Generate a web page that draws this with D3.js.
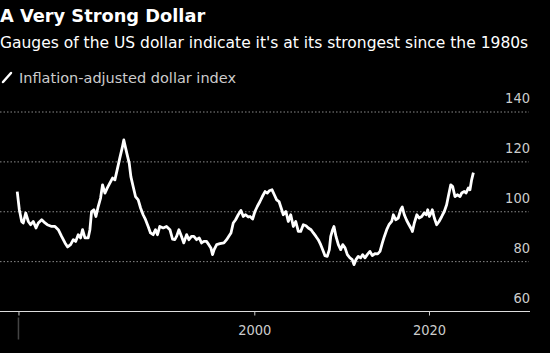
<!DOCTYPE html>
<html lang="en">
<head>
    <meta charset="UTF-8">
    <title>A Very Strong Dollar</title>
    <script src="https://cdn.jsdelivr.net/npm/d3@7"></script>
    <style>
        body { margin: 0; background: #000; }
        text { font-family: "DejaVu Sans Condensed", "DejaVu Sans", sans-serif; }
    </style>
</head>
<body>
<div id="chart"></div>
<script>

    // inflation-adjusted dollar index (decimal year, index)
    const years = [
        1972.86, 1973.10, 1973.37, 1973.55, 1973.83, 1974.13, 1974.40, 1974.70, 1975.01, 1975.27,
        1975.66, 1976.04, 1976.30, 1976.81, 1977.18, 1977.56, 1977.94, 1978.33, 1978.63, 1978.97,
        1979.28, 1979.55, 1979.84, 1980.11, 1980.34, 1980.61, 1980.98, 1981.18, 1981.37, 1981.63,
        1981.87, 1982.13, 1982.40, 1982.63, 1982.90, 1983.16, 1983.46, 1983.77, 1984.04, 1984.30,
        1984.60, 1984.87, 1985.06, 1985.27, 1985.45, 1985.68, 1985.87, 1986.13, 1986.40, 1986.71,
        1986.98, 1987.27, 1987.55, 1987.85, 1988.12, 1988.42, 1988.69, 1988.92, 1989.18, 1989.57,
        1989.95, 1990.34, 1990.64, 1990.90, 1991.10, 1991.37, 1991.67, 1991.93, 1992.25, 1992.51,
        1992.81, 1993.08, 1993.39, 1993.69, 1993.96, 1994.23, 1994.53, 1994.79, 1995.03, 1995.22,
        1995.40, 1995.69, 1996.06, 1996.52, 1996.83, 1997.12, 1997.33, 1997.59, 1997.86, 1998.16,
        1998.47, 1998.74, 1999.01, 1999.31, 1999.51, 1999.81, 2000.07, 2000.34, 2000.65, 2000.92,
        2001.23, 2001.49, 2001.71, 2002.03, 2002.29, 2002.56, 2002.83, 2003.14, 2003.32, 2003.62,
        2003.89, 2004.17, 2004.47, 2004.74, 2005.04, 2005.31, 2005.61, 2005.92, 2006.18, 2006.50,
        2006.76, 2007.06, 2007.32, 2007.60, 2007.83, 2008.09, 2008.35, 2008.59, 2008.75, 2008.97,
        2009.12, 2009.35, 2009.62, 2009.89, 2010.12, 2010.39, 2010.65, 2010.95, 2011.21, 2011.41,
        2011.64, 2011.90, 2012.17, 2012.40, 2012.67, 2012.93, 2013.24, 2013.51, 2013.81, 2014.13,
        2014.39, 2014.66, 2014.89, 2015.16, 2015.42, 2015.73, 2015.92, 2016.19, 2016.48, 2016.76,
        2016.94, 2017.17, 2017.45, 2017.71, 2018.03, 2018.10, 2018.32, 2018.61, 2018.87, 2019.17,
        2019.44, 2019.67, 2019.86, 2020.04, 2020.24, 2020.38, 2020.61, 2020.88, 2021.15, 2021.46,
        2021.75, 2022.02, 2022.21, 2022.49, 2022.71, 2022.97, 2023.24, 2023.55, 2023.74, 2024.04,
        2024.23, 2024.50, 2024.69, 2024.88, 2025.08
    ];
    const index = [
        108.1, 100.8, 96.1, 95.5, 99.5, 96.1, 94.8, 96.1, 93.5, 95.5,
        96.8, 95.5, 94.8, 94.1, 94.1, 92.8, 90.1, 87.5, 85.9, 86.8,
        88.8, 88.1, 90.8, 89.5, 92.8, 89.5, 89.5, 92.8, 100.1, 100.8,
        98.1, 102.1, 105.5, 110.8, 107.5, 109.5, 111.5, 113.5, 112.8, 116.8,
        121.5, 125.5, 128.8, 125.5, 122.8, 119.5, 114.1, 110.1, 106.1, 104.8,
        101.5, 98.8, 96.8, 94.1, 91.5, 90.8, 92.8, 90.8, 94.1, 93.5,
        94.1, 92.8, 89.0, 88.8, 90.1, 92.8, 90.1, 87.5, 90.8, 88.8,
        90.1, 90.1, 88.8, 89.5, 87.5, 88.1, 88.1, 86.8, 85.5, 82.8,
        84.8, 86.8, 87.2, 87.5, 88.8, 90.4, 91.5, 95.5, 96.8, 98.8,
        100.5, 98.1, 98.8, 97.9, 98.1, 97.1, 100.1, 102.1, 104.1, 106.1,
        108.1, 107.5, 108.4, 108.8, 106.8, 104.8, 104.1, 100.8, 98.8, 100.1,
        96.1, 98.8, 94.1, 96.1, 92.1, 92.1, 94.8, 94.4, 93.5, 92.8,
        91.5, 90.1, 88.8, 86.8, 84.8, 82.4, 82.1, 84.8, 90.1, 92.8,
        94.1, 90.1, 86.8, 84.8, 86.8, 85.5, 82.8, 81.5, 80.8, 78.8,
        80.8, 82.1, 81.5, 82.8, 81.5, 82.8, 84.1, 82.4, 83.2, 83.1,
        84.1, 87.5, 90.1, 92.8, 94.8, 96.1, 98.8, 96.8, 97.5, 100.8,
        101.9, 98.8, 96.5, 94.8, 92.8, 92.1, 95.5, 98.8, 97.5, 98.1,
        99.5, 98.8, 100.8, 98.1, 99.5, 100.8, 97.5, 94.8, 96.1, 98.1,
        100.1, 102.8, 106.1, 110.8, 110.1, 106.1, 106.8, 106.1, 107.5, 108.1,
        107.5, 109.5, 108.8, 112.8, 115.7
    ];
    const yTicks = [60, 80, 100, 120, 140];
    const xTicks = [1973, 2000, 2020];
    const xTickLabels = ["", "2000", "2020"];

    const data = years.map((d, i) => ({year: d, value: index[i]}));

    const W = 550, H = 353;
    const margin = {top: 112, right: 21, bottom: 41.5, left: 0};

    const svg = d3.select("#chart")
        .append("svg")
        .attr("width", W)
        .attr("height", H)
        .style("background", "#000");

    // titles
    svg.append("text")
        .attr("x", 0).attr("y", 22)
        .attr("fill", "#fff")
        .style("font-family", "'DejaVu Sans', sans-serif")
        .style("font-weight", "bold")
        .style("font-size", "17.8px")
        .text("A Very Strong Dollar");
    svg.append("text")
        .attr("x", 0).attr("y", 48)
        .attr("fill", "#fff")
        .style("font-family", "'DejaVu Sans', sans-serif")
        .style("font-size", "15.5px")
        .text("Gauges of the US dollar indicate it's at its strongest since the 1980s");

    // legend
    svg.append("line")
        .attr("x1", 3).attr("y1", 82).attr("x2", 11).attr("y2", 73)
        .attr("stroke", "#fff").attr("stroke-width", 2.5)
        .attr("stroke-linecap", "round");
    svg.append("text")
        .attr("x", 19).attr("y", 83)
        .attr("fill", "#ccc")
        .style("font-family", "'DejaVu Sans', sans-serif")
        .style("font-size", "14.5px")
        .text("Inflation-adjusted dollar index");

    const x = d3.scaleLinear()
        .domain([2000, 2020])
        .range([254.3, 429]);
    const y = d3.scaleLinear()
        .domain([60, 140])
        .range([H - margin.bottom, margin.top]);

    // gridlines
    svg.append("g")
        .selectAll("line")
        .data(yTicks.slice(1))
        .enter()
        .append("line")
        .attr("x1", 0)
        .attr("x2", W - margin.right)
        .attr("y1", d => y(d))
        .attr("y2", d => y(d))
        .attr("stroke", "#8a8a8a")
        .attr("stroke-width", 1)
        .attr("stroke-dasharray", "1.5,2");

    // y labels
    svg.append("g")
        .selectAll("text")
        .data(yTicks)
        .enter()
        .append("text")
        .attr("x", 530)
        .attr("y", d => y(d) - 9)
        .attr("text-anchor", "end")
        .attr("fill", "#ccc")
        .style("font-size", "14.5px")
        .text(d => d);

    // x axis
    const xAxis = d3.axisBottom(x)
        .tickValues(xTicks)
        .tickSize(4)
        .tickPadding(9)
        .tickFormat((d, i) => xTickLabels[i]);
    const gx = svg.append("g")
        .attr("transform", "translate(0," + y(60) + ")")
        .call(xAxis);
    gx.select(".domain").remove();
    gx.selectAll(".tick line").attr("stroke", "#ccc");
    gx.selectAll(".tick text")
        .attr("fill", "#ccc")
        .style("font-family", "'DejaVu Sans Condensed', sans-serif")
        .style("font-size", "14.5px");
    gx.insert("line", ":first-child")
        .attr("x1", 0).attr("x2", W - margin.right + 1)
        .attr("y1", 0).attr("y2", 0)
        .attr("stroke", "#ddd").attr("stroke-width", 1.2);
    // faint mark under the first tick
    gx.append("line")
        .attr("x1", x(1973)).attr("x2", x(1973))
        .attr("y1", 6).attr("y2", 28)
        .attr("stroke", "#444").attr("stroke-width", 1.5);

    // line
    const line = d3.line()
        .x(d => x(d.year))
        .y(d => y(d.value));
    svg.append("path")
        .datum(data)
        .attr("fill", "none")
        .attr("stroke", "#fff")
        .attr("stroke-width", 2.8)
        .attr("stroke-linejoin", "round")
        .attr("d", line);

</script>
</body>
</html>
